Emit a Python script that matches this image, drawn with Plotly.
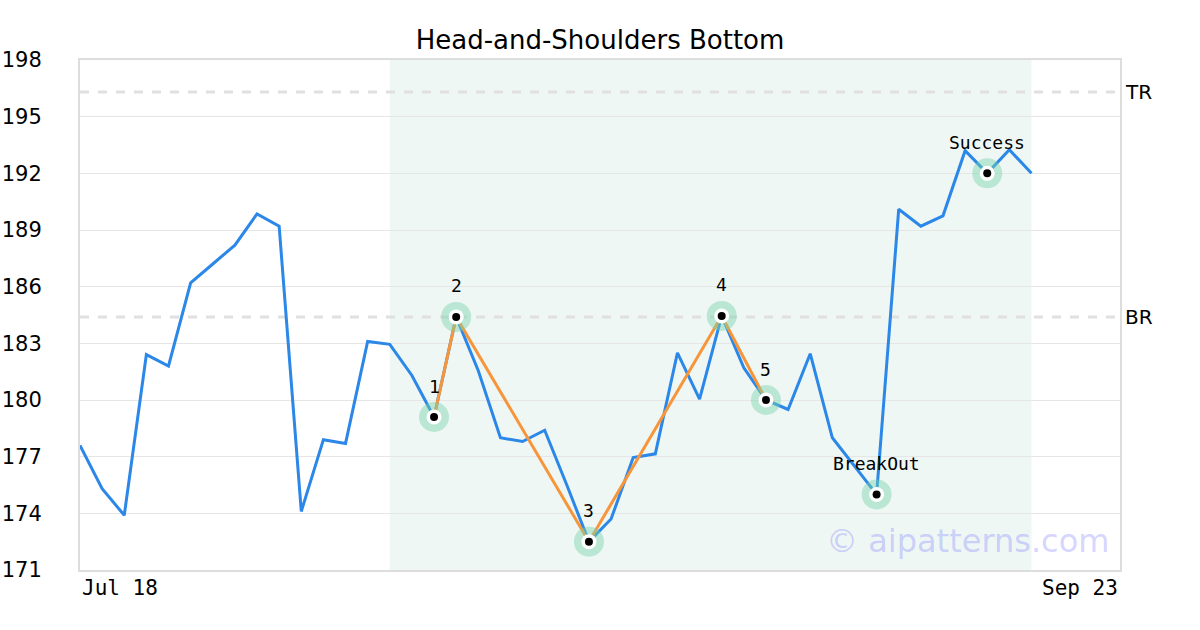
import plotly.graph_objects as go

# ---- data ----
prices = [177.6, 175.3, 173.9, 182.4, 181.8, 186.2, 187.2, 188.2, 189.85, 189.2,
          174.1, 177.9, 177.7, 183.1, 182.95, 181.3, 179.1, 184.4, 181.55, 178.0,
          177.8, 178.4, 175.5, 172.5, 173.7, 176.95, 177.15, 182.5, 180.05, 184.45,
          181.7, 180.0, 179.5, 182.45, 178.0, 176.5, 175.0, 190.1, 189.2, 189.75,
          193.2, 192.0, 193.25, 192.0]
x_idx = list(range(len(prices)))

pattern_idx = [16, 17, 23, 29, 31]           # points 1..5 (orange zig-zag)
marker_idx = [16, 17, 23, 29, 31, 36, 41]
marker_labels = ["1", "2", "3", "4", "5", "BreakOut", "Success"]

shade_start, shade_end = 14, 43
level_names = ["TR", "BR"]
level_values = [196.3, 184.4]

y_ticks = [171, 174, 177, 180, 183, 186, 189, 192, 195, 198]
x_tick_pos = [0, 47]
x_tick_labels = ["Jul 18", "Sep 23"]

title = "Head-and-Shoulders Bottom"
watermark = "© aipatterns.com"

# ---- figure ----
fig = go.Figure()

fig.add_trace(go.Scatter(x=x_idx, y=prices, mode="lines",
                         line=dict(color="#2b87e8", width=3), hoverinfo="skip"))
fig.add_trace(go.Scatter(x=pattern_idx, y=[prices[i] for i in pattern_idx], mode="lines",
                         line=dict(color="#f7953b", width=3), hoverinfo="skip"))

mx = marker_idx
my = [prices[i] for i in marker_idx]
fig.add_trace(go.Scatter(x=mx, y=my, mode="markers", hoverinfo="skip",
                         marker=dict(size=30, color="rgba(120,210,170,0.45)", line=dict(width=0))))
fig.add_trace(go.Scatter(x=mx, y=my, mode="markers", hoverinfo="skip",
                         marker=dict(size=15, color="white", line=dict(width=0))))
fig.add_trace(go.Scatter(x=mx, y=my, mode="markers", hoverinfo="skip",
                         marker=dict(size=8, color="black", line=dict(width=0))))

for xi, yi, lab in zip(mx, my, marker_labels):
    fig.add_annotation(x=xi, y=yi, text=lab, showarrow=False, yshift=31,
                       font=dict(family="DejaVu Sans Mono", size=18, color="black"))

# shaded pattern area
fig.add_shape(type="rect", xref="x", yref="paper", x0=shade_start, x1=shade_end,
              y0=0, y1=1, fillcolor="#eff7f4", line=dict(width=0), layer="below")

# TR / BR levels
for name, val in zip(level_names, level_values):
    fig.add_shape(type="line", xref="paper", yref="y", x0=0, x1=1, y0=val, y1=val,
                  line=dict(color="#e0e0e0", width=3, dash="dash"), layer="below")
    fig.add_annotation(xref="paper", yref="y", x=1, y=val, text=name, showarrow=False,
                       xanchor="left", xshift=3,
                       font=dict(family="DejaVu Sans", size=20, color="black"))

# x tick labels
for pos, lab in zip(x_tick_pos, x_tick_labels):
    fig.add_annotation(xref="x", yref="paper", x=pos, y=0, yanchor="top", yshift=-4,
                       xanchor="left" if pos == x_tick_pos[0] else "right",
                       text=lab, showarrow=False,
                       font=dict(family="DejaVu Sans Mono", size=21, color="black"))

fig.add_annotation(xref="paper", yref="paper", x=0.991, y=0.0, xanchor="right", yanchor="bottom",
                   yshift=8, text=watermark, showarrow=False,
                   font=dict(family="DejaVu Sans", size=32, color="rgba(110,110,255,0.3)"))

fig.update_layout(
    width=1200, height=630,
    margin=dict(l=80, r=80, t=60, b=60),
    paper_bgcolor="white", plot_bgcolor="white",
    showlegend=False,
    title=dict(text=title, x=0.5, xanchor="center", y=0.937, yanchor="middle",
               font=dict(family="DejaVu Sans", size=26, color="black")),
    xaxis=dict(range=[0, 47], showgrid=False, zeroline=False, showticklabels=False,
               showline=True, linecolor="#dddddd", linewidth=2, mirror=True,
               fixedrange=True, automargin=False),
    yaxis=dict(range=[171, 198], tickvals=y_ticks, ticktext=[str(v) for v in y_ticks],
               showgrid=True, gridcolor="#e6e6e6", gridwidth=1, zeroline=False,
               showline=True, linecolor="#dddddd", linewidth=2, mirror=True,
               ticklabelstandoff=32, automargin=False, fixedrange=True,
               tickfont=dict(family="DejaVu Sans", size=21, color="black")),
)

fig.write_html("out.html", config={"displayModeBar": False},
               post_script="document.body.style.margin='0px';")
